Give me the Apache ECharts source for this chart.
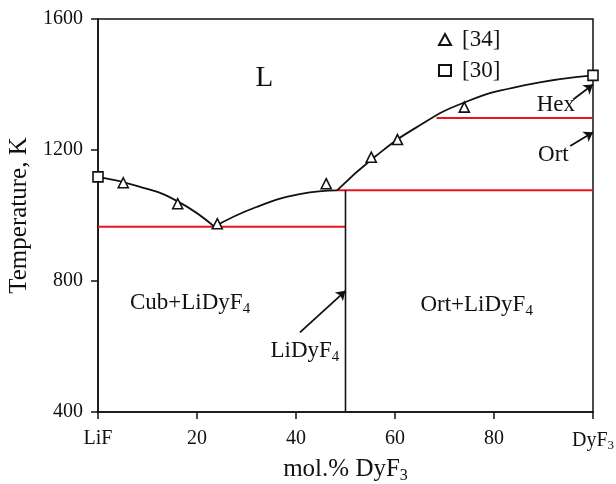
<!DOCTYPE html>
<html>
<head>
<meta charset="utf-8">
<script src="https://cdn.jsdelivr.net/npm/echarts@6/dist/echarts.min.js"></script>
<style>html,body{margin:0;padding:0;background:#fff}#c{width:616px;height:484px}</style>
</head>
<body>
<div id="c"></div>
<script>
// ---- data ----
const xTickLabels = {0: 'LiF', 20: '20', 40: '40', 60: '60', 80: '80', 100: 'DyF{sub|3}'};
const ref34 = [[5.1,1100],[16.1,1036],[24.1,975],[46.1,1097],[55.2,1178],[60.5,1232],[74,1331]];
const ref30 = [[0,1118],[100,1428]];
const liquidusLeft = [[0,1118],[8,1090],[16,1044],[23.5,966]];
const liquidusMid = [[23.5,966],[32,1026],[41,1066],[48.3,1077]];
const liquidusRight = [[48.3,1077],[56,1180],[64,1266],[74,1345],[86,1397],[100,1428]];
const eutecticLine = [[0,966],[50,966]];
const peritecticLine = [[48.3,1077],[100,1077]];
const transitionLine = [[68.4,1298],[100,1298]];
const compoundLine = [[50,400],[50,1077]];
const arrows = [
  [[96,1354],[100,1400]],
  [[95.4,1212],[100,1254]],
  [[40.8,643],[50,770]]
];
const regionLabels = [
  {value:[33.6,1418], text:'{big|L}'},
  {value:[92.5,1339], text:'Hex'},
  {value:[92,1186], text:'Ort'},
  {value:[18.6,734], text:'Cub+LiDyF{sub|4}'},
  {value:[76.5,727], text:'Ort+LiDyF{sub|4}'},
  {value:[41.8,585], text:'LiDyF{sub|4}'}
];
// ---- chart ----
const FONT = 'Liberation Serif';
const INK = '#111';
const subStyle = {fontSize: 15, fontFamily: FONT, color: INK, padding: [12,0,0,0]};
const chart = echarts.init(document.getElementById('c'), null, {renderer: 'canvas'});
function lineSeries(data, color, w) {
  return {type:'line', data:data, symbol:'none', silent:true, lineStyle:{color:color, width:w}, z:2, animation:false};
}
const curveStyle = {type:'line', symbol:'none', smooth:0.5, lineStyle:{color:INK, width:1.8}, z:3, animation:false, silent:true};
const option = {
  animation: false,
  textStyle: {fontFamily: FONT},
  grid: {left: 98, right: 23, top: 19, bottom: 72, show: true, borderColor: INK, borderWidth: 1.5, containLabel: false, outerBoundsMode: 'none'},
  legend: {
    orient: 'vertical', left: 433, top: 23, itemGap: 8, itemWidth: 12, itemHeight: 11,
    textStyle: {fontSize: 23, fontFamily: FONT, color: INK, padding: [4,0,0,6]},
    data: ['[34]','[30]']
  },
  xAxis: {
    type: 'value', min: 0, max: 100, interval: 20,
    name: 'mol.% DyF{sub|3}', nameLocation: 'middle', nameGap: 40,
    nameTextStyle: {fontSize: 25, fontFamily: FONT, color: INK, rich: {sub: {fontSize: 16, fontFamily: FONT, color: INK, padding: [12,0,0,0]}}},
    axisLine: {lineStyle: {color: INK, width: 1.5}},
    axisTick: {inside: false, length: 7, lineStyle: {color: INK, width: 1.5}},
    axisLabel: {fontSize: 20, fontFamily: FONT, color: INK, margin: 17,
      formatter: v => xTickLabels[v] !== undefined ? xTickLabels[v] : '',
      rich: {sub: {fontSize: 13, fontFamily: FONT, color: INK, padding: [10,0,0,0]}}},
    splitLine: {show: false}
  },
  yAxis: {
    type: 'value', min: 400, max: 1600, interval: 400,
    name: 'Temperature, K', nameLocation: 'middle', nameGap: 60,
    nameTextStyle: {fontSize: 25, fontFamily: FONT, color: INK},
    axisLine: {show: true, lineStyle: {color: INK, width: 1.5}},
    axisTick: {show: true, inside: false, length: 7, lineStyle: {color: INK, width: 1.5}},
    axisLabel: {fontSize: 20, fontFamily: FONT, color: INK, margin: 15, formatter: v => String(v)},
    splitLine: {show: false}
  },
  series: [
    lineSeries(eutecticLine, '#e8161c', 2),
    lineSeries(peritecticLine, '#e8161c', 2),
    lineSeries(transitionLine, '#e8161c', 2),
    lineSeries(compoundLine, INK, 1.6),
    Object.assign({data: liquidusLeft}, curveStyle),
    Object.assign({data: liquidusMid}, curveStyle),
    Object.assign({data: liquidusRight}, curveStyle),
    {
      type: 'lines', coordinateSystem: 'cartesian2d', silent: true, z: 4,
      symbol: ['none','arrow'], symbolSize: 9,
      lineStyle: {color: INK, width: 1.8, opacity: 1},
      data: arrows.map(a => ({coords: a}))
    },
    {
      name: '[34]', type: 'scatter', data: ref34, symbol: 'triangle', symbolSize: 10, z: 5,
      itemStyle: {color: '#fff', borderColor: INK, borderWidth: 1.6, opacity: 1}
    },
    {
      name: '[30]', type: 'scatter', data: ref30, symbol: 'rect', symbolSize: 10, z: 5,
      itemStyle: {color: '#fff', borderColor: INK, borderWidth: 1.6, opacity: 1}
    },
    {
      type: 'scatter', data: regionLabels, symbolSize: 0, silent: true, z: 6,
      itemStyle: {opacity: 1},
      label: {
        show: true, position: 'inside', color: INK, fontSize: 23, fontFamily: FONT, opacity: 1,
        formatter: p => p.data.text,
        rich: {sub: subStyle, big: {fontSize: 29, fontFamily: FONT, color: INK}}
      }
    }
  ]
};
chart.setOption(option);
</script>
</body>
</html>
